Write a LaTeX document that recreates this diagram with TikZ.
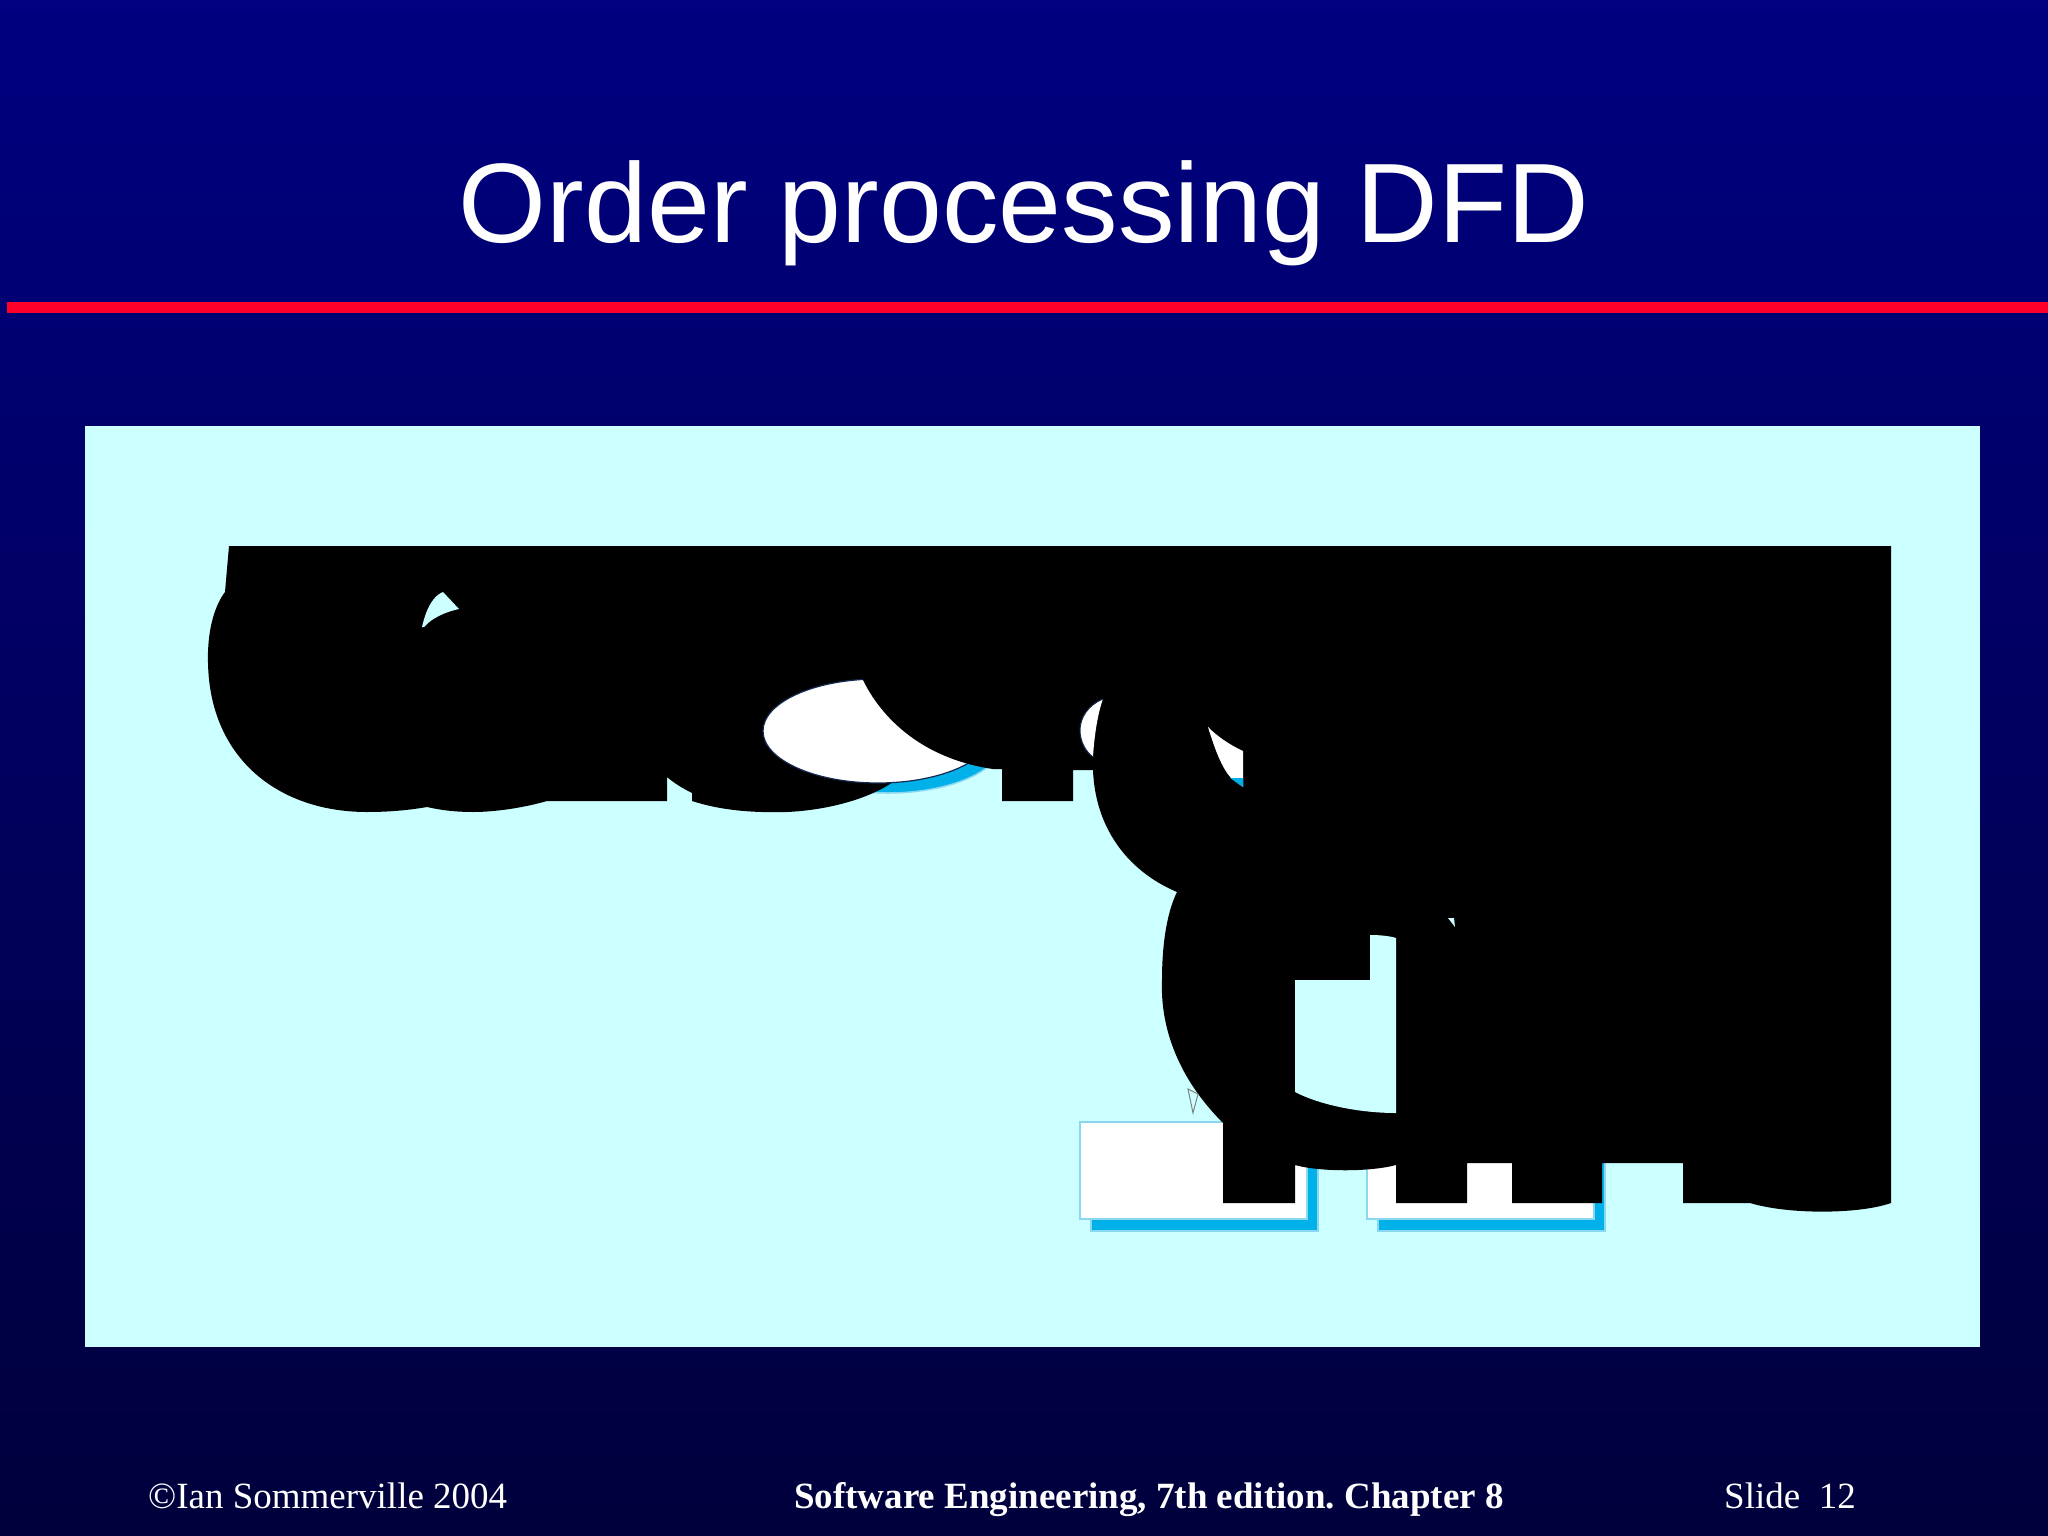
\documentclass[tikz,border=0pt]{standalone}
\usepackage{fontspec}
\setmainfont{Liberation Serif}
\newfontfamily\arialfont{Liberation Sans}
\definecolor{navytop}{RGB}{0,0,128}
\definecolor{navymid}{RGB}{0,0,100}
\definecolor{navybot}{RGB}{0,0,60}
\definecolor{slidered}{RGB}{255,0,40}
\definecolor{panelcyan}{RGB}{204,255,255}
\definecolor{shadowcyan}{RGB}{0,176,232}
\definecolor{lightedge}{RGB}{140,215,240}
\definecolor{darkedge}{RGB}{20,40,80}
\tikzset{
  whitebox/.style={fill=white, draw=lightedge, line width=1.5pt},
  shadowbox/.style={fill=shadowcyan, draw=lightedge, line width=1.5pt},
  blob/.style={fill=black},
  foot/.style={anchor=base west, text=white, inner sep=0pt, font=\fontsize{37}{37}\selectfont\frenchspacing}
}
\begin{document}
\begin{tikzpicture}[x=1pt,y=-1pt]
\useasboundingbox (0,0) rectangle (2048,1536);
\shade[top color=navytop, middle color=navymid, bottom color=navybot] (0,0) rectangle (2048,1536);
\fill[slidered] (7,302) rectangle (2048,313);
\node[anchor=base, text=white, inner sep=0pt, font=\arialfont\fontsize{113}{113}\selectfont] (title) at (1024,242) {Order processing DFD};
\fill[panelcyan] (85,426) rectangle (1980,1347);
% stores (boxes) under the black glyphs
\filldraw[shadowbox] (1091,1133) rectangle (1318,1231);
\filldraw[whitebox] (1080,1122) rectangle (1307,1219);
\filldraw[shadowbox] (1378,1133) rectangle (1605,1231);
\filldraw[whitebox] (1367,1122) rectangle (1594,1219);
% shadow of first ellipse
\filldraw[shadowbox] (888,741) ellipse [x radius=115, y radius=52];
% black glyph mass
\fill[blob] (229,546) -- (1891,546) -- (1891,1203)
 .. controls (1860,1214) and (1790,1215) .. (1750,1203)
 -- (1683,1203) -- (1683,1163) -- (1602,1163) -- (1602,1203)
 -- (1512,1203) -- (1512,1163) -- (1467,1163) -- (1467,1203)
 -- (1396,1203) -- (1396,1165) .. controls (1370,1172) and (1320,1172) .. (1295,1165)
 -- (1295,1203) -- (1223,1203) -- (1223,1123)
 .. controls (1180,1080) and (1160,1030) .. (1162,980)
 .. controls (1162,940) and (1168,910) .. (1177,892)
 .. controls (1125,870) and (1095,825) .. (1093,770)
 -- (1073,770) -- (1073,801) -- (1002,801) -- (1002,700) -- (893,700) -- (893,782)
 .. controls (870,798) and (830,810) .. (787,812)
 .. controls (750,813) and (720,810) .. (692,801)
 -- (692,793) .. controls (682,788) and (674,783) .. (667,777)
 -- (667,801) -- (547,801)
 .. controls (530,806) and (500,812) .. (473,812)
 .. controls (455,812) and (440,810) .. (427,807)
 .. controls (410,810) and (390,812) .. (367,812)
 .. controls (280,812) and (210,760) .. (208,663)
 .. controls (207,630) and (215,605) .. (225,592)
 -- cycle;
% holes in the glyphs
\fill[panelcyan] (1295,980) -- (1370,980) -- (1370,935) .. controls (1380,935) and (1390,936) .. (1396,938)
 -- (1396,1113) .. controls (1360,1113) and (1320,1105) .. (1295,1092) -- cycle;
\fill[panelcyan] (422,627) .. controls (427,605) and (435,595) .. (443,592) -- (459,609)
 .. controls (445,612) and (432,618) .. (424,627) -- cycle;
\fill[panelcyan] (1448,918) -- (1454,918) -- (1455,927) -- cycle;
% first ellipse (process)
\filldraw[fill=white, draw=darkedge, line width=1.2pt] (878,731) ellipse [x radius=115, y radius=52];
\fill[blob] (850,600) -- (863,680) .. controls (885,725) and (930,760) .. (993,769)
 -- (1002,769) -- (1002,600) -- cycle;
% visible parts of the second ellipse
\fill[white] (1103,699) .. controls (1088,705) and (1080,718) .. (1080,730)
 .. controls (1080,742) and (1086,752) .. (1093,757)
 .. controls (1094,740) and (1097,715) .. (1103,699) -- cycle;
\draw[darkedge, line width=1pt] (1103,699) .. controls (1088,705) and (1080,718) .. (1080,730)
 .. controls (1080,742) and (1086,752) .. (1093,757);
\fill[white] (1208,727) .. controls (1215,750) and (1222,768) .. (1231,778) -- (1243,787) -- (1243,751)
 .. controls (1230,745) and (1218,737) .. (1208,727) -- cycle;
\fill[shadowcyan] (1230,778) -- (1243,778) -- (1243,787) -- cycle;
% small arrowhead outline
\draw[gray, line width=1pt] (1188,1089) -- (1193,1113) -- (1198,1094) -- cycle;
% footer
\node[foot] (copy) at (148,1508) {\textcopyright Ian Sommerville 2004};
\node[foot, font=\fontsize{37}{37}\selectfont\bfseries\frenchspacing] (book) at (794,1508) {Software Engineering, 7th edition. Chapter 8};
\node[foot] (slide) at (1724,1508) {Slide\ \ 12};
\end{tikzpicture}
\end{document}
